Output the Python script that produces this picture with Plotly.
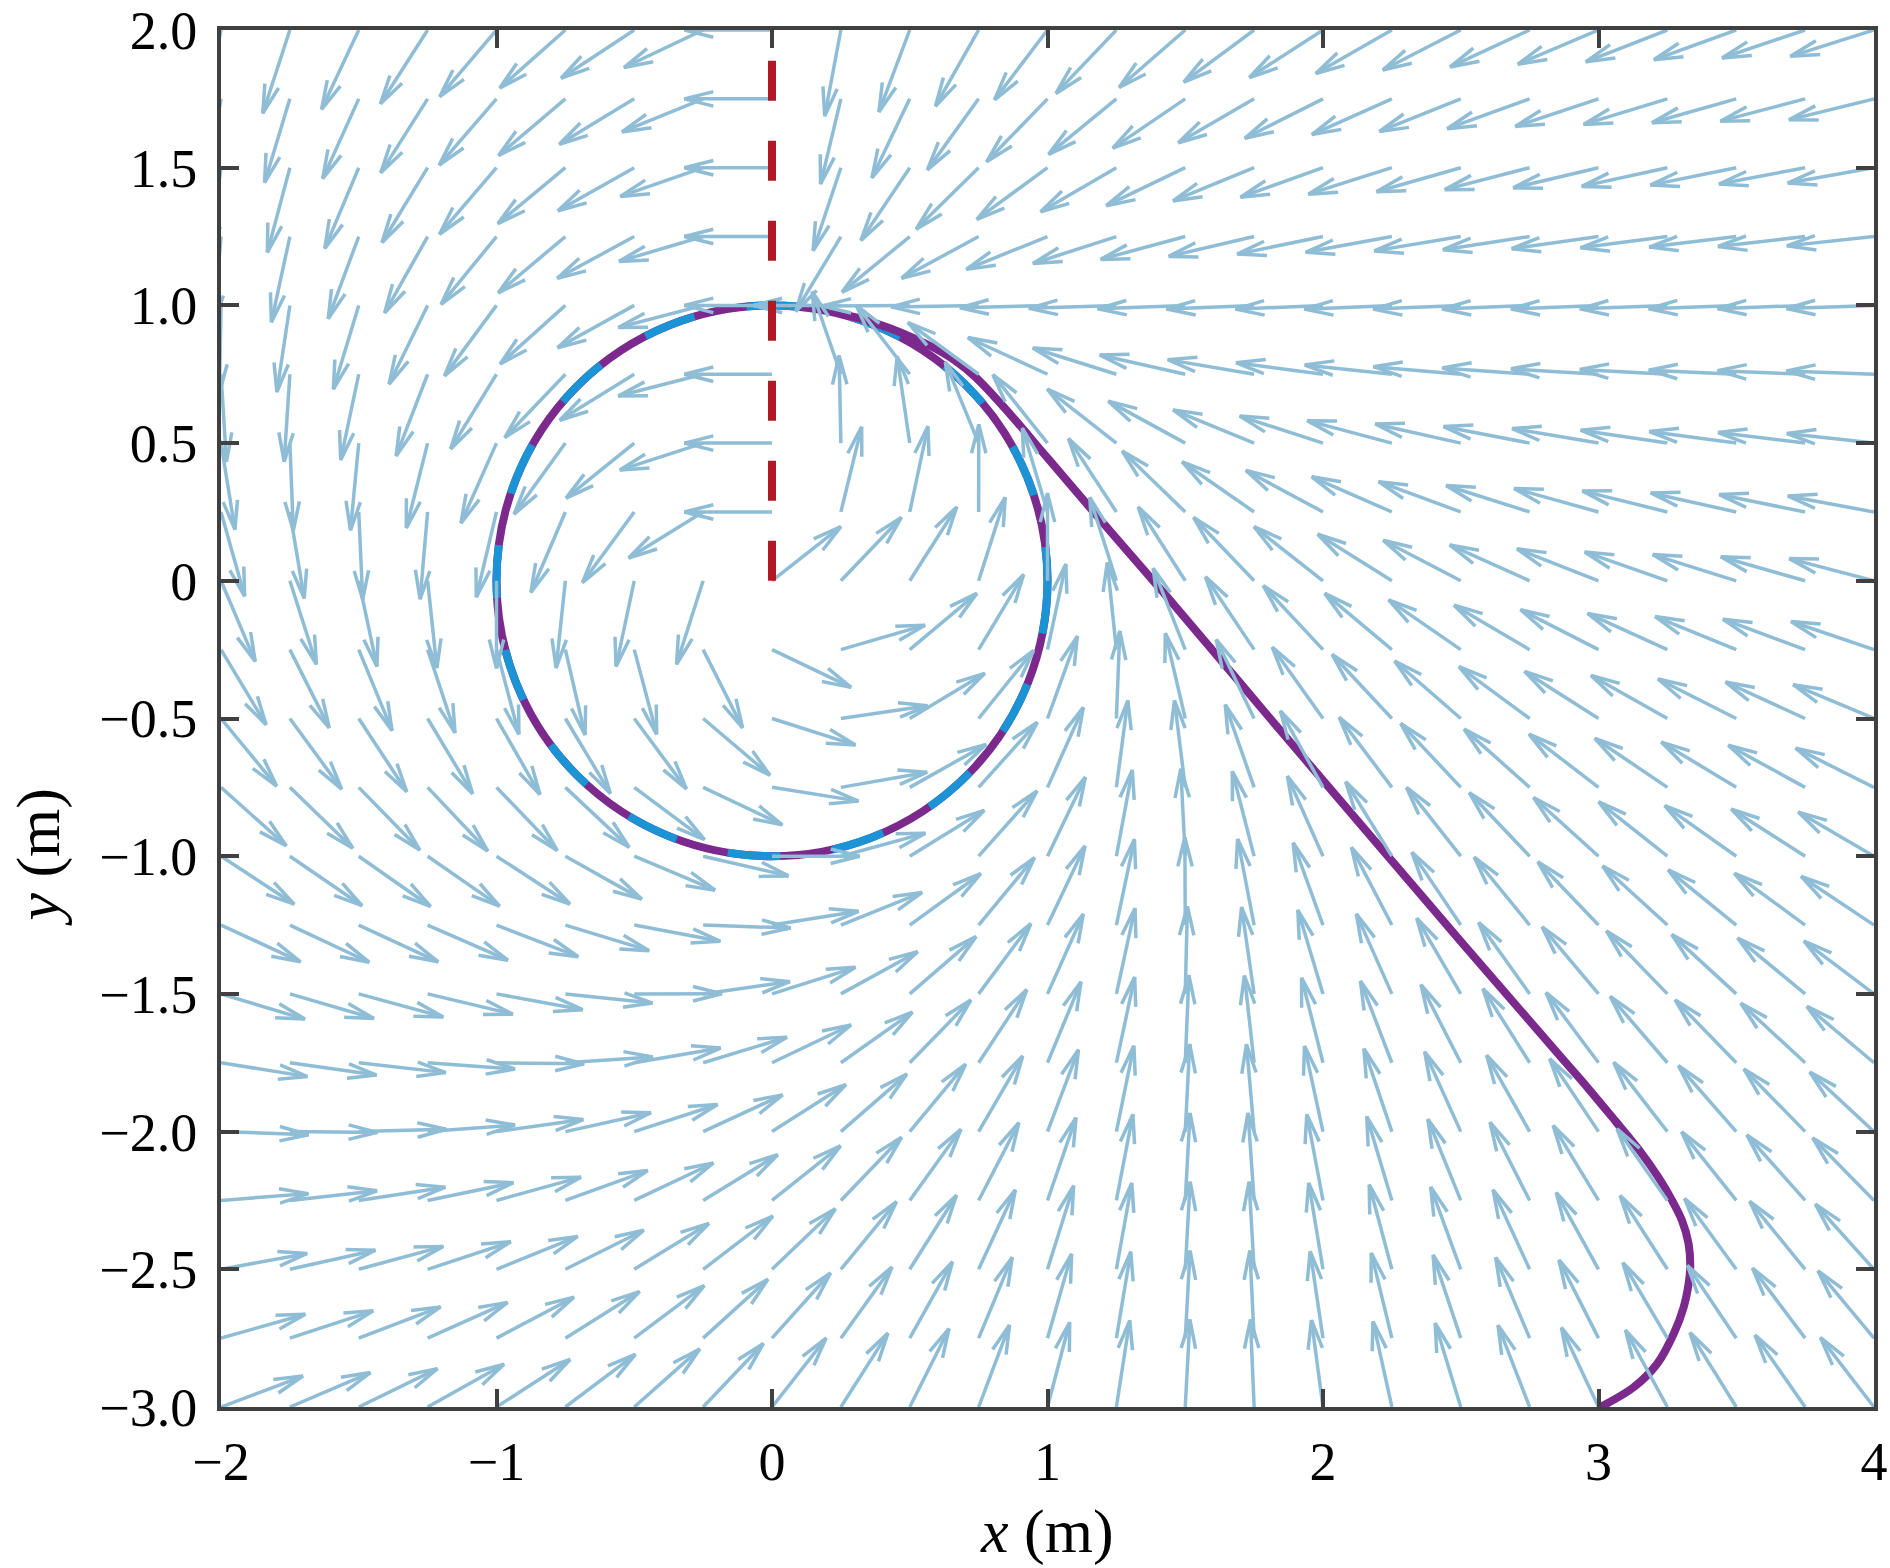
import numpy as np
import plotly.graph_objects as go

# ---------------- data ----------------
# grid on which the guiding vector field is sampled
grid_x = np.arange(-2.0, 4.0001, 0.25)
grid_y = np.arange(-3.0, 2.0001, 0.25)

# vector-field parameters (circle of radius 1, path parameter w in [pi/2, 5pi/2))
radius = 1.0
k_gain = 2.0
w_start = np.pi / 2
w_end = 5 * np.pi / 2
arrow_len = 0.318

# robot trajectory (approach part)
traj_x = [3.007, 3.128, 3.213, 3.273, 3.309, 3.327, 3.333, 3.327, 3.303, 3.267,
          3.22, 3.15, 3.06, 2.96, 2.86, 2.50, 2.18, 1.80, 1.436, 1.20, 1.00,
          0.85, 0.739, 0.668, 0.591, 0.510, 0.428, 0.344, 0.259]
traj_y = [-3.0, -2.928, -2.843, -2.734, -2.638, -2.553, -2.492, -2.407, -2.323, -2.25,
          -2.17, -2.07, -1.96, -1.84, -1.725, -1.309, -0.935, -0.49, -0.06, 0.212, 0.446,
          0.621, 0.739, 0.797, 0.844, 0.883, 0.917, 0.945, 0.968]

# discontinuity ray
cut_x = [0.0, 0.0]
cut_y = [0.0, 2.0]

x_ticks = [-2, -1, 0, 1, 2, 3, 4]
x_ticklabels = ["\u22122", "\u22121", "0", "1", "2", "3", "4"]
y_ticks = [-3.0, -2.5, -2.0, -1.5, -1.0, -0.5, 0.0, 0.5, 1.0, 1.5, 2.0]
y_ticklabels = ["\u22123.0", "\u22122.5", "\u22122.0", "\u22121.5", "\u22121.0", "\u22120.5",
                "0", "0.5", "1.0", "1.5", "2.0"]

# ---------------- colours ----------------
c_arrow = "rgb(143,189,214)"
c_traj = "rgb(123,41,140)"
c_path = "rgb(28,147,212)"
c_cut = "rgb(178,24,36)"
c_axis = "rgb(64,64,64)"


def field(x, y):
    if x == 0 and y > 0:
        return -1.0, 0.0
    th = np.arctan2(y, x)
    w = (th - w_start) % (2 * np.pi) + w_start
    r = np.hypot(x, y)
    nx, ny = np.cos(w), np.sin(w)
    tx, ty = -np.sin(w), np.cos(w)
    e = r - radius
    s = w_end - w
    return s * tx - k_gain * e * nx, s * ty - k_gain * e * ny


ax, ay = [], []
alpha, beta = 0.33, 0.25
for yy in grid_y:
    for xx in grid_x:
        u, v = field(float(xx), float(yy))
        m = np.hypot(u, v)
        u, v = arrow_len * u / m, arrow_len * v / m
        tx, ty = xx + u, yy + v
        b1 = (tx - alpha * (u + beta * v), ty - alpha * (v - beta * u))
        b2 = (tx - alpha * (u - beta * v), ty - alpha * (v + beta * u))
        ax += [xx, tx, None, b1[0], tx, b2[0], None]
        ay += [yy, ty, None, b1[1], ty, b2[1], None]

fig = go.Figure()

# trajectory approach
fig.add_trace(go.Scatter(x=traj_x, y=traj_y, mode="lines",
                         line=dict(color=c_traj, width=8, shape="spline", smoothing=1.0),
                         hoverinfo="skip", showlegend=False))
# arrows
fig.add_trace(go.Scatter(x=ax, y=ay, mode="lines",
                         line=dict(color=c_arrow, width=3.5),
                         hoverinfo="skip", showlegend=False))
# cut line
fig.add_trace(go.Scatter(x=cut_x, y=cut_y, mode="lines",
                         line=dict(color=c_cut, width=8, dash="40px,40px"),
                         hoverinfo="skip", showlegend=False))

# trajectory on the circle and the desired path (dashed)
fig.add_shape(type="circle", xref="x", yref="y", x0=-radius, y0=-radius, x1=radius, y1=radius,
              line=dict(color=c_traj, width=8), layer="below")
fig.add_shape(type="circle", xref="x", yref="y", x0=-radius, y0=-radius, x1=radius, y1=radius,
              line=dict(color=c_path, width=8, dash="53px,53px"), layer="below")

font_fam = "Liberation Serif"
axis_common = dict(showline=True, linecolor=c_axis, linewidth=4, mirror="ticks",
                   ticks="inside", ticklen=18, tickwidth=4, tickcolor=c_axis,
                   showgrid=False, zeroline=False, automargin=False,
                   tickfont=dict(family=font_fam, size=54, color="black"))

fig.update_layout(
    width=1890, height=1568,
    margin=dict(l=221, r=16, t=30, b=161),
    paper_bgcolor="white", plot_bgcolor="white",
    xaxis=dict(range=[-2, 4], tickvals=x_ticks, ticktext=x_ticklabels,
               ticklabelstandoff=4, **axis_common),
    yaxis=dict(range=[-3, 2], tickvals=y_ticks, ticktext=y_ticklabels,
               ticklabelstandoff=9, **axis_common),
    annotations=[
        dict(text="<i>x</i> (m)", xref="paper", yref="paper", x=0.4995, y=0,
             xanchor="center", yanchor="middle", yshift=-124, showarrow=False,
             font=dict(family=font_fam, size=62, color="black")),
        dict(text="<i>y</i> (m)", xref="paper", yref="paper", x=0, y=0.399,
             xanchor="center", yanchor="middle", xshift=-182, textangle=-90, showarrow=False,
             font=dict(family=font_fam, size=62, color="black")),
    ],
)

fig.write_html("out.html", config={"displayModeBar": False},
               post_script="document.body.style.margin='0';")
